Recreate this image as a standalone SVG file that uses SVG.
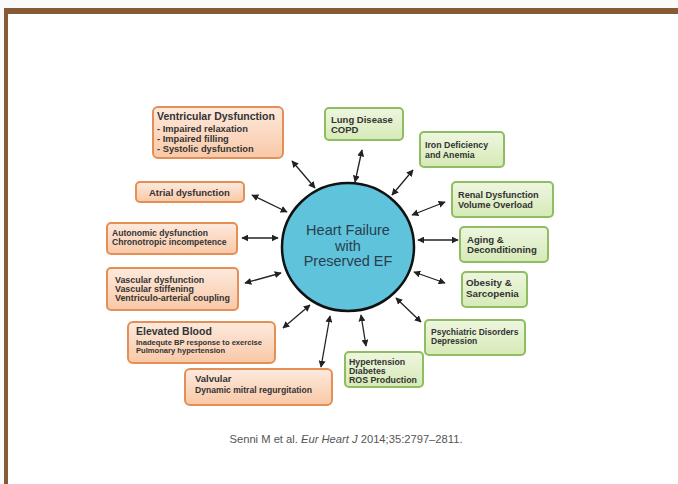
<svg xmlns="http://www.w3.org/2000/svg" width="678" height="484" viewBox="0 0 678 484">
<defs>
<linearGradient id="gO" x1="0" y1="0" x2="0" y2="1"><stop offset="0" stop-color="#fdeade"/><stop offset="1" stop-color="#f9c8a6"/></linearGradient>
<linearGradient id="gG" x1="0" y1="0" x2="0" y2="1"><stop offset="0" stop-color="#eef6e0"/><stop offset="1" stop-color="#d6eab6"/></linearGradient>
<marker id="ah" viewBox="0 0 10 10" refX="9" refY="5" markerWidth="7" markerHeight="7" orient="auto-start-reverse" markerUnits="userSpaceOnUse"><path d="M0,0 L10,5 L0,10 z" fill="#222"/></marker>
<style>
.o{fill:url(#gO);stroke:#e58e55;stroke-width:2}
.g{fill:url(#gG);stroke:#8fbe62;stroke-width:2}
.t{font-family:"Liberation Sans",Arial,sans-serif;font-weight:bold;fill:#333}
.c line{stroke:#222;stroke-width:1.3;marker-start:url(#ah);marker-end:url(#ah)}
</style>
</defs>
<rect x="0" y="0" width="678" height="484" fill="#fafafa"/>
<rect x="8" y="14" width="670" height="470" fill="#ffffff"/>
<rect x="4" y="8" width="674" height="6" fill="#865a35"/>
<rect x="4" y="8" width="4" height="476" fill="#865a35"/>

<g id="center">
<ellipse cx="348" cy="247" rx="66" ry="64" fill="#5fc3dc" stroke="#111" stroke-width="2.5"/>
<text x="348" y="235" text-anchor="middle" font-family="Liberation Sans,Arial,sans-serif" font-size="14.5" fill="#2a3e4c">Heart Failure</text>
<text x="348" y="251" text-anchor="middle" font-family="Liberation Sans,Arial,sans-serif" font-size="14.5" fill="#2a3e4c">with</text>
<text x="348" y="266" text-anchor="middle" font-family="Liberation Sans,Arial,sans-serif" font-size="14.5" fill="#2a3e4c">Preserved EF</text>
</g>

<g id="ventricular">
<rect class="o" x="153" y="107" width="130" height="51" rx="5"/>
<text class="t" x="157" y="120" font-size="10.5">Ventricular Dysfunction</text>
<text class="t" x="157" y="132" font-size="9.3">- Impaired relaxation</text>
<text class="t" x="157" y="142" font-size="9.3">- Impaired filling</text>
<text class="t" x="157" y="152" font-size="9.3">- Systolic dysfunction</text>
</g>
<g id="atrial">
<rect class="o" x="136" y="182" width="108" height="20" rx="4"/>
<text class="t" x="149" y="196" font-size="9.5">Atrial dysfunction</text>
</g>
<g id="autonomic">
<rect class="o" x="107" y="223" width="130" height="31" rx="4"/>
<text class="t" x="112" y="236" font-size="8.6">Autonomic dysfunction</text>
<text class="t" x="112" y="245" font-size="8.6">Chronotropic incompetence</text>
</g>
<g id="vascular">
<rect class="o" x="107" y="268" width="131" height="42" rx="4"/>
<text class="t" x="115" y="283" font-size="8.9">Vascular dysfunction</text>
<text class="t" x="115" y="292" font-size="8.9">Vascular stiffening</text>
<text class="t" x="115" y="301" font-size="8.9">Ventriculo-arterial coupling</text>
</g>
<g id="elevated">
<rect class="o" x="128" y="322" width="147" height="41" rx="5"/>
<text class="t" x="136" y="335" font-size="10.5">Elevated Blood</text>
<text class="t" x="136" y="345" font-size="7.6">Inadequte BP response to exercise</text>
<text class="t" x="136" y="353" font-size="7.6">Pulmonary hypertension</text>
</g>
<g id="valvular">
<rect class="o" x="185" y="369" width="147" height="36" rx="5"/>
<text class="t" x="195" y="382" font-size="9.5">Valvular</text>
<text class="t" x="195" y="393" font-size="8.6">Dynamic mitral regurgitation</text>
</g>

<g id="lung">
<rect class="g" x="325" y="108" width="78" height="32" rx="4"/>
<text class="t" x="331" y="123" font-size="9.5">Lung Disease</text>
<text class="t" x="331" y="133" font-size="9.5">COPD</text>
</g>
<g id="iron">
<rect class="g" x="420" y="132" width="84" height="35" rx="4"/>
<text class="t" x="425" y="148" font-size="8.8">Iron Deficiency</text>
<text class="t" x="425" y="158" font-size="8.8">and Anemia</text>
</g>
<g id="renal">
<rect class="g" x="452" y="182" width="101" height="35" rx="4"/>
<text class="t" x="458" y="198" font-size="9.2">Renal Dysfunction</text>
<text class="t" x="458" y="208" font-size="9.2">Volume Overload</text>
</g>
<g id="aging">
<rect class="g" x="460" y="227" width="88" height="35" rx="4"/>
<text class="t" x="467" y="243" font-size="9.6">Aging &amp;</text>
<text class="t" x="467" y="253" font-size="9.6">Deconditioning</text>
</g>
<g id="obesity">
<rect class="g" x="462" y="272" width="65" height="35" rx="4"/>
<text class="t" x="466" y="286" font-size="9.8">Obesity &amp;</text>
<text class="t" x="466" y="297" font-size="9.8">Sarcopenia</text>
</g>
<g id="psychiatric">
<rect class="g" x="425" y="320" width="100" height="35" rx="4"/>
<text class="t" x="431" y="335" font-size="8.5">Psychiatric Disorders</text>
<text class="t" x="431" y="344" font-size="8.5">Depression</text>
</g>
<g id="hypertension">
<rect class="g" x="345" y="352" width="78" height="35" rx="4"/>
<text class="t" x="349" y="365" font-size="8.8">Hypertension</text>
<text class="t" x="349" y="374" font-size="8.8">Diabetes</text>
<text class="t" x="349" y="383" font-size="8.8">ROS Production</text>
</g>

<g id="connectors" class="c">
<line x1="292" y1="161" x2="315" y2="188"/>
<line x1="362" y1="150" x2="355" y2="182"/>
<line x1="413" y1="170" x2="392" y2="195"/>
<line x1="252" y1="195" x2="287" y2="212"/>
<line x1="445" y1="202" x2="412" y2="215"/>
<line x1="242" y1="238" x2="278" y2="238"/>
<line x1="418" y1="240" x2="458" y2="240"/>
<line x1="245" y1="283" x2="281" y2="273"/>
<line x1="414" y1="272" x2="445" y2="283"/>
<line x1="283" y1="328" x2="310" y2="305"/>
<line x1="330" y1="316" x2="321" y2="367"/>
<line x1="361" y1="315" x2="366" y2="346"/>
<line x1="396" y1="298" x2="421" y2="322"/>
</g>

<text x="346" y="443" text-anchor="middle" font-family="Liberation Sans,Arial,sans-serif" font-size="11.2" fill="#555">Senni M et al. <tspan font-style="italic">Eur Heart J</tspan> 2014;35:2797–2811.</text>
</svg>
